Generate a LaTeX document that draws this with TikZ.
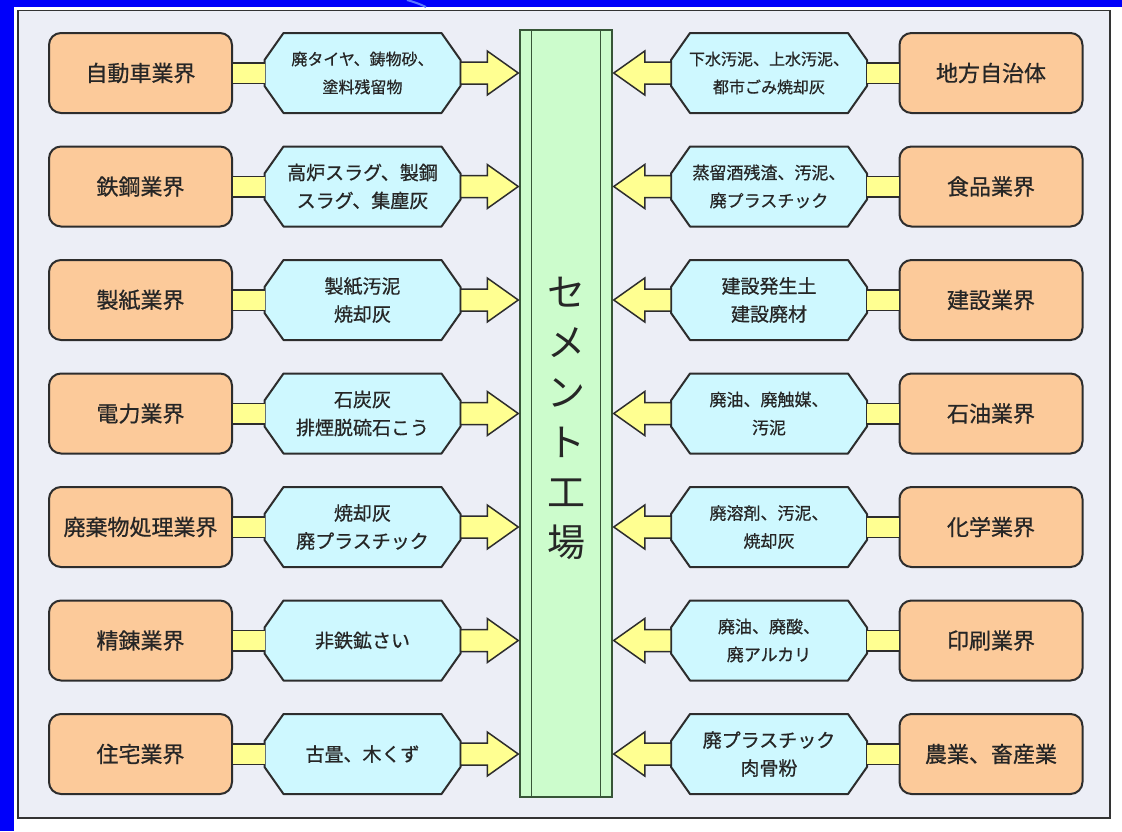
\documentclass[tikz,border=0pt]{standalone}
\usepackage{graphicx}
\usepackage{fontspec}
\setmainfont{Noto Sans CJK JP}
\newfontfamily\heavy{Noto Sans CJK JP}[FakeBold=0.7]
\usetikzlibrary{calc}
\definecolor{bgblue}{RGB}{0,0,250}
\definecolor{arcblue}{RGB}{90,120,255}
\definecolor{panelbg}{RGB}{236,238,246}
\definecolor{orangefill}{RGB}{252,202,154}
\definecolor{hexfill}{RGB}{206,248,255}
\definecolor{arrowfill}{RGB}{255,255,145}
\definecolor{greenfill}{RGB}{204,252,204}
\definecolor{edge}{RGB}{45,45,45}
\definecolor{greenedge}{RGB}{55,85,55}
\newcommand\fsz[1]{\heavy\fontsize{#1}{28}\selectfont}
\tikzset{
  srcbox/.style={draw=edge, line width=2pt, fill=orangefill, rounded corners=12pt,
    minimum width=183pt, minimum height=80pt, inner sep=0pt, text=black!85,
    font=\heavy\fontsize{22}{26}\selectfont},
  hexbox/.style={minimum width=196pt, minimum height=80pt, inner sep=0pt, outer sep=0pt,
    align=center, text=black!85},
  hexline/.style={draw=edge, line width=2pt, fill=hexfill, line join=round},
  arrowline/.style={draw=edge, line width=1.5pt, fill=arrowfill, line join=miter},
  connbar/.style={draw=edge, line width=1.5pt, double=arrowfill, double distance=19pt},
  plantbox/.style={draw=greenedge, line width=1.5pt, fill=greenfill,
    minimum width=92pt, minimum height=767pt, inner sep=0pt},
  plantlabel/.style={align=center, text=black!85, font=\fontsize{38}{50}\selectfont},
  panelline/.style={draw=black!80, line width=1.5pt, fill=panelbg}
}
\begin{document}
\begin{tikzpicture}[x=1pt,y=-1pt]
\useasboundingbox (0,0) rectangle (1122,831);
\fill[white] (0,0) rectangle (1122,831);
\fill[bgblue] (0,0) rectangle (1122,7);
\fill[bgblue] (0,0) rectangle (14,831);
\draw[arcblue, line width=2pt] (407,0) .. controls (414,2) and (420,4) .. (426,7);
\draw[panelline] (18,10.5) rectangle (1110,818);

\node[plantbox] (plant) at (566,413.5) {};
\draw[greenedge, line width=1.2pt] ([xshift=12pt]plant.north west) -- ([xshift=12pt]plant.south west);
\draw[greenedge, line width=1.2pt] ([xshift=-12pt]plant.north east) -- ([xshift=-12pt]plant.south east);
\node[plantlabel] (plantname) at (566,418) {セ\\メ\\ン\\ト\\工\\場};

\foreach \i/\lsrc/\lmat/\lfs/\rmat/\rfs/\rsrc in {
  1/{自動車業界}/{廃タイヤ、鋳物砂、\\塗料残留物}/16/{下水汚泥、上水汚泥、\\都市ごみ焼却灰}/16/{地方自治体},
  2/{鉄鋼業界}/{高炉スラグ、製鋼\\スラグ、集塵灰}/19/{蒸留酒残渣、汚泥、\\廃プラスチック}/17/{食品業界},
  3/{製紙業界}/{製紙汚泥\\焼却灰}/19/{建設発生土\\建設廃材}/19/{建設業界},
  4/{電力業界}/{石炭灰\\排煙脱硫石こう}/19/{廃油、廃触媒、\\汚泥}/17/{石油業界},
  5/{廃棄物処理業界}/{焼却灰\\廃プラスチック}/19/{廃溶剤、汚泥、\\焼却灰}/17/{化学業界},
  6/{精錬業界}/{非鉄鉱さい}/19/{廃油、廃酸、\\廃アルカリ}/17/{印刷業界},
  7/{住宅業界}/{古畳、木くず}/19/{廃プラスチック\\肉骨粉}/19/{農業、畜産業}}{
  \pgfmathsetmacro\yy{73+(\i-1)*113.5}
  % left side
  \node[srcbox] (Lb\i) at (140.5,\yy) {\lsrc};
  \draw[hexline, shift={(362.5,\yy)}] (-79,-40) -- (79,-40) -- (98,-13) -- (98,13) -- (79,40) -- (-79,40) -- (-98,13) -- (-98,-13) -- cycle;
  \node[hexbox, font=\fsz{\lfs}] (Lh\i) at (362.5,\yy) {\lmat};
  \draw[connbar] (Lb\i.east) -- (Lh\i.west);
  \coordinate (tl\i) at (Lh\i.east -| plant.west);
  \draw[arrowline] ($(Lh\i.east)+(0,-11)$) -- ($(tl\i)+(-32,-11)$) -- ($(tl\i)+(-32,-22)$)
     -- ($(tl\i)+(-1,0)$) -- ($(tl\i)+(-32,22)$) -- ($(tl\i)+(-32,11)$) -- ($(Lh\i.east)+(0,11)$) -- cycle;
  % right side
  \node[srcbox] (Rb\i) at (991,\yy) {\rsrc};
  \draw[hexline, shift={(769,\yy)}] (-79,-40) -- (79,-40) -- (98,-13) -- (98,13) -- (79,40) -- (-79,40) -- (-98,13) -- (-98,-13) -- cycle;
  \node[hexbox, font=\fsz{\rfs}] (Rh\i) at (769,\yy) {\rmat};
  \draw[connbar] (Rb\i.west) -- (Rh\i.east);
  \coordinate (tr\i) at (Rh\i.west -| plant.east);
  \draw[arrowline] ($(Rh\i.west)+(0,-11)$) -- ($(tr\i)+(32,-11)$) -- ($(tr\i)+(32,-22)$)
     -- ($(tr\i)+(1,0)$) -- ($(tr\i)+(32,22)$) -- ($(tr\i)+(32,11)$) -- ($(Rh\i.west)+(0,11)$) -- cycle;
}
\end{tikzpicture}
\end{document}
